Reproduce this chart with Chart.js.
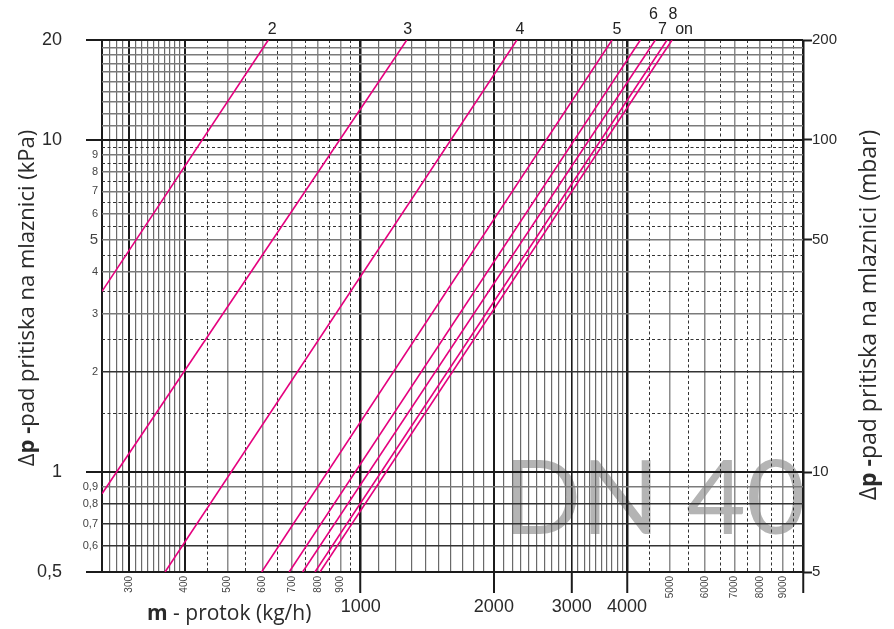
<!DOCTYPE html>
<html>
<head>
<meta charset="utf-8">
<script src="https://cdn.jsdelivr.net/npm/chart.js@4.4.0/dist/chart.umd.min.js"></script>
<style>
  html, body { margin: 0; padding: 0; background: #fff; }
  #wrap { width: 894px; height: 629px; }
</style>
</head>
<body>
<div id="wrap"><canvas id="dpChart" width="894" height="629"></canvas></div>
<script>
// nozzle settings, each line read from its low end to where it leaves the top
const settings = ['2', '3', '4', '5', '6', '7', '8', 'on'];
const flowLow  = [260, 260, 361, 597, 689, 739, 788, 809];
const dpLow    = [3.5, 0.86, 0.5, 0.5, 0.5, 0.5, 0.5, 0.5];
const flowHigh = [618, 1271, 2255, 3700, 4288, 4636, 4927, 5057];
const dpHigh   = [20, 20, 20, 20, 20, 20, 20, 20];

// grid lines and tick labels
const flowGrid = [260, 270, 280, 290, 300, 310, 320, 330, 340, 350, 360, 370, 380, 390, 400,
  500, 600, 700, 800, 900,
  1000, 1100, 1200, 1300, 1400, 1500, 1600, 1700, 1800, 1900,
  2000, 2100, 2200, 2300, 2400, 2500, 2600, 2700, 2800, 2900,
  3000, 3100, 3200, 3300, 3400, 3500, 3600, 3700, 3800, 3900,
  4000, 5000, 6000, 7000, 8000, 9000, 10000];
const flowGridDashed = [450, 550, 650, 750, 850, 950, 4500, 5500, 6500, 7500, 8500, 9500];
const flowSmallLabels = [300, 400, 500, 600, 700, 800, 900, 5000, 6000, 7000, 8000, 9000];
const flowBigLabels = [1000, 2000, 3000, 4000];
const dpGrid = [0.5, 0.6, 0.7, 0.8, 0.9, 1, 2, 3, 4, 5, 6, 7, 8, 9,
  10, 11, 12, 13, 14, 15, 16, 17, 18, 19, 20];
const dpGridDashed = [1.5, 2.5, 3.5, 4.5, 5.5, 6.5, 7.5, 8.5, 9.5];
const dpSmallLabels = [0.6, 0.7, 0.8, 0.9, 2, 3, 4, 5, 6, 7, 8, 9];
const dpBigLabels = [0.5, 1, 10, 20];
const mbarLabels = [5, 10, 50, 100, 200];

// where the setting names sit relative to the line ends (px)
const nameShiftX = [4, 1, 3, 5, 13, 7, 6, 12];
const nameRaise  = [10, 10, 10, 10, 25, 10, 25, 10];

const pink = '#e5007e';
const numFont = '"Liberation Sans", Arial, sans-serif';
const titleFont = '"Open Sans", "Liberation Sans", sans-serif';

function setTicks(values) {
  return function (scale) {
    scale.ticks = values.map(v => ({ value: v }));
  };
}
function comma(v) {
  return String(v).replace('.', ',');
}

function flowLine(v) {
  if ([1000, 4000, 10000].includes(v)) return ['#1b1b1b', 2.5];
  if ([260, 300, 400, 2000].includes(v)) return ['#1b1b1b', 2];
  if (v === 3000) return ['#1b1b1b', 1.6];
  if (flowSmallLabels.includes(v)) return ['#8c8c8c', 1.5];
  return ['#6a6a6a', 1.2];
}
function dpLine(v) {
  if (dpBigLabels.includes(v)) return ['#1b1b1b', 2];
  if ([2, 0.6, 0.7, 0.8].includes(v)) return ['#333', 1.5];
  return ['#7a7a7a', 1.5];
}

const datasets = settings.map((name, i) => ({
  label: name,
  data: [{ x: flowLow[i], y: dpLow[i] }, { x: flowHigh[i], y: dpHigh[i] }],
  showLine: true,
  borderColor: pink,
  borderWidth: 1.6,
  pointRadius: 0,
  fill: false,
  xAxisID: 'x',
  yAxisID: 'y'
}));

function drawParts(c, parts, x, y) {
  let total = 0;
  parts.forEach(p => { c.font = p[1]; total += c.measureText(p[0]).width; });
  let cx = x - total / 2;
  parts.forEach(p => {
    c.font = p[1];
    c.fillText(p[0], cx, y);
    cx += c.measureText(p[0]).width;
  });
}

const textPlugin = {
  id: 'chartText',
  beforeDraw(chart) {
    const c = chart.ctx;
    c.save();
    c.font = '103px Lato, ' + numFont;
    c.fillStyle = '#b4b4b4';
    c.textAlign = 'left';
    c.textBaseline = 'alphabetic';
    c.fillText('DN 40', 503, 534);
    c.restore();
  },
  afterDatasetsDraw(chart) {
    const c = chart.ctx;
    const top = chart.chartArea.top;
    c.save();
    c.font = '16px ' + numFont;
    c.fillStyle = '#222';
    c.textAlign = 'center';
    c.textBaseline = 'middle';
    settings.forEach((name, i) => {
      const pts = chart.getDatasetMeta(i).data;
      const end = pts[pts.length - 1];
      c.fillText(name, end.x + nameShiftX[i], top - nameRaise[i]);
    });
    c.restore();
  },
  afterDraw(chart) {
    const c = chart.ctx;
    c.save();
    c.fillStyle = '#2a2a2a';
    c.textAlign = 'left';
    c.textBaseline = 'alphabetic';

    // y titles
    c.save();
    c.translate(34, 298);
    c.rotate(-Math.PI / 2);
    drawParts(c, [['\u0394', '22px ' + titleFont], ['p -', 'bold 22px ' + titleFont],
      ['pad pritiska na mlaznici (kPa)', '22px ' + titleFont]], 0, 0);
    c.restore();

    c.save();
    c.translate(876, 315);
    c.rotate(-Math.PI / 2);
    drawParts(c, [['\u0394', '23px ' + titleFont], ['p -', 'bold 23px ' + titleFont],
      ['pad pritiska na mlaznici (mbar)', '23px ' + titleFont]], 0, 0);
    c.restore();

    // x title
    c.font = 'bold 21px ' + titleFont;
    c.fillText('m', 147, 620);
    const w = c.measureText('m').width;
    c.font = '21px ' + titleFont;
    c.fillText(' - protok (kg/h)', 147 + w, 620);
    c.restore();
  }
};

new Chart(document.getElementById('dpChart'), {
  type: 'scatter',
  data: { datasets: datasets },
  plugins: [textPlugin],
  options: {
    responsive: false,
    animation: false,
    layout: { padding: { left: 16, right: 51, top: 40, bottom: 0 } },
    plugins: { legend: { display: false }, tooltip: { enabled: false } },
    scales: {
      x: {
        type: 'logarithmic', position: 'bottom', min: 260, max: 10000,
        afterBuildTicks: setTicks(flowGrid),
        afterFit: s => { s.height = 26; },
        border: { display: false },
        grid: {
          color: ctx => ctx.tick ? flowLine(ctx.tick.value)[0] : '#1b1b1b',
          lineWidth: ctx => ctx.tick ? flowLine(ctx.tick.value)[1] : 1,
          drawTicks: true,
          tickLength: 21,
          tickWidth: 2,
          tickColor: ctx => ctx.tick && (flowBigLabels.includes(ctx.tick.value) || ctx.tick.value === 10000) ? '#1b1b1b' : 'rgba(0,0,0,0)'
        },
        ticks: {
          autoSkip: false, minRotation: 90, maxRotation: 90, padding: -17,
          color: '#444', font: { family: numFont, size: 10 },
          callback: v => flowSmallLabels.includes(v) ? String(v) : ''
        }
      },
      xBig: {
        type: 'logarithmic', position: 'bottom', min: 260, max: 10000,
        afterBuildTicks: setTicks(flowBigLabels),
        afterFit: s => { s.height = 31; },
        border: { display: false },
        grid: { drawOnChartArea: false, drawTicks: false },
        ticks: {
          autoSkip: false, minRotation: 0, maxRotation: 0, padding: -2,
          color: '#2a2a2a', font: { family: numFont, size: 18 },
          callback: v => String(v)
        }
      },
      xDash: {
        type: 'logarithmic', position: 'top', min: 260, max: 10000,
        afterBuildTicks: setTicks(flowGridDashed),
        afterFit: s => { s.height = 0; },
        border: { display: false, dash: [3, 2.5] },
        grid: { color: '#333', lineWidth: 1, drawTicks: false },
        ticks: { display: false }
      },
      y: {
        type: 'logarithmic', position: 'left', min: 0.5, max: 20, weight: 0,
        afterBuildTicks: setTicks(dpGrid),
        afterFit: s => { s.width = 26; },
        border: { display: false },
        grid: {
          color: ctx => ctx.tick ? dpLine(ctx.tick.value)[0] : '#1b1b1b',
          lineWidth: ctx => ctx.tick ? dpLine(ctx.tick.value)[1] : 1,
          drawTicks: true,
          tickLength: 16,
          tickWidth: 2,
          tickColor: ctx => ctx.tick && dpBigLabels.includes(ctx.tick.value) ? '#1b1b1b' : 'rgba(0,0,0,0)'
        },
        ticks: {
          autoSkip: false, padding: -12,
          color: '#444',
          font: ctx => ({ family: numFont, size: ctx.tick && ctx.tick.value === 5 ? 15 : 11 }),
          callback: v => dpSmallLabels.includes(v) ? comma(v) : ''
        }
      },
      yBig: {
        type: 'logarithmic', position: 'left', min: 0.5, max: 20, weight: 1,
        afterBuildTicks: setTicks(dpBigLabels),
        afterFit: s => { s.width = 60; },
        border: { display: false },
        grid: { drawOnChartArea: false, drawTicks: false },
        ticks: {
          autoSkip: false, padding: 14,
          color: '#2a2a2a', font: { family: numFont, size: 18 },
          callback: v => comma(v)
        }
      },
      yDash: {
        type: 'logarithmic', position: 'right', min: 0.5, max: 20, weight: 2,
        afterBuildTicks: setTicks(dpGridDashed),
        afterFit: s => { s.width = 0; },
        border: { display: false, dash: [3, 2.5] },
        grid: { color: '#333', lineWidth: 1, drawTicks: false },
        ticks: { display: false }
      },
      y2: {
        type: 'logarithmic', position: 'right', min: 5, max: 200, weight: 0,
        afterBuildTicks: setTicks(mbarLabels),
        afterFit: s => { s.width = 40; },
        border: { display: false },
        grid: {
          drawOnChartArea: false, drawTicks: true, tickLength: 9, tickWidth: 2,
          tickColor: '#1b1b1b'
        },
        ticks: {
          autoSkip: false, padding: 0,
          color: '#2a2a2a', font: { family: numFont, size: 15 },
          callback: v => String(v)
        }
      }
    }
  }
});
</script>
</body>
</html>
